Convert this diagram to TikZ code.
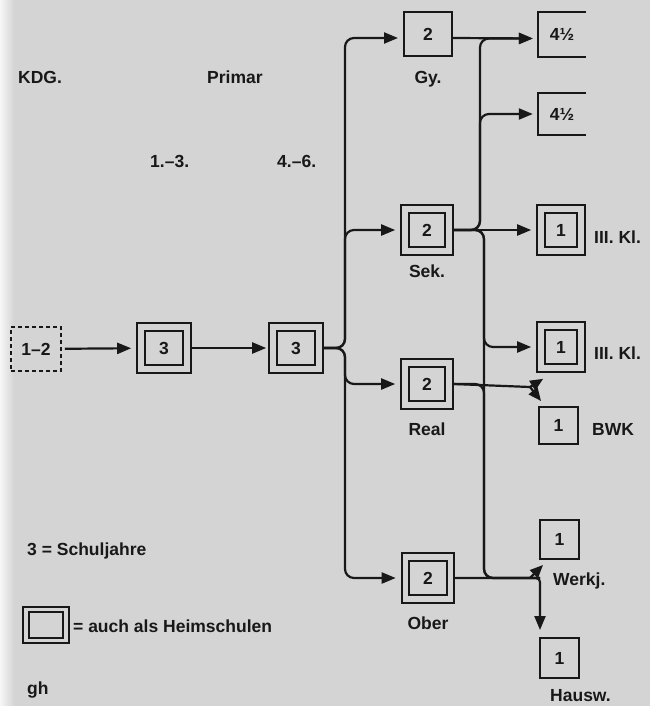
\documentclass[tikz,border=0pt]{standalone}
\usepackage{fontspec}
\setmainfont{Liberation Sans}
\usetikzlibrary{arrows.meta}
\definecolor{bg}{RGB}{212,212,212}
\definecolor{ink}{RGB}{24,24,24}
\begin{document}
\begin{tikzpicture}[x=1pt,y=-1pt,
  every node/.style={font=\bfseries\fontsize{17.5}{20}\selectfont, text=ink},
  single/.style={draw=ink, line width=2pt, inner sep=0pt},
  dbl/.style={draw=ink, double=bg, double distance=5.5pt, line width=2pt, inner sep=0pt, outer sep=4.8pt},
  dashbox/.style={draw=ink, line width=1.8pt, dash pattern=on 4pt off 3pt, inner sep=0pt},
  openbox/.style={inner sep=0pt},
  arr/.style={draw=ink, line width=2.2pt, shorten >=5pt, -{Triangle[length=14pt,width=11pt]}},
  tiparr/.style={draw=ink, line width=2.2pt, -{Triangle[length=13pt,width=11pt]}},
  ln/.style={draw=ink, line width=2.2pt},
  rc/.style={rounded corners=9pt},
  lab/.style={anchor=base west, inner sep=0pt},
  labc/.style={anchor=base, inner sep=0pt}]
\useasboundingbox (0,0) rectangle (650,706);
\fill[bg] (0,0) rectangle (650,706);
\shade[left color=white!80!bg, right color=bg] (0,0) rectangle (14,706);

% headings
\node[lab] (hk) at (18,84) {KDG.};
\node[lab] (hp) at (207,84) {Primar};
\node[lab] (h13) at (150,167) {1.–3.};
\node[lab] (h46) at (277,167) {4.–6.};

% boxes
\node[dashbox, minimum width=50pt, minimum height=44pt] (k) at (36,349) {1–2};
\node[dbl, minimum width=46pt, minimum height=42pt] (p1) at (164,348) {3};
\node[dbl, minimum width=46pt, minimum height=42pt] (p2) at (296,348) {3};
\node[single, minimum width=48pt, minimum height=44pt] (gy) at (428,34) {2};
\node[dbl, minimum width=44pt, minimum height=42pt] (sek) at (427,230) {2};
\node[dbl, minimum width=44pt, minimum height=42pt] (real) at (427,384) {2};
\node[dbl, minimum width=45pt, minimum height=42pt] (ober) at (428,578) {2};
\node[openbox, minimum width=48pt, minimum height=44pt] (g1) at (562,34.5) {4½};
\node[openbox, minimum width=48pt, minimum height=41pt] (g2) at (562,114) {4½};
\node[dbl, minimum width=40pt, minimum height=42pt] (kl1) at (561,230) {1};
\node[dbl, minimum width=40pt, minimum height=42pt] (kl2) at (561,347) {1};
\node[single, minimum width=39pt, minimum height=37pt] (bwk) at (558.5,425.5) {1};
\node[single, minimum width=39pt, minimum height=39pt] (werkj) at (559.5,539.5) {1};
\node[single, minimum width=39pt, minimum height=40pt] (hausw) at (559.5,658) {1};
\draw[ln] (g1.north east) -- (g1.north west) -- (g1.south west) -- (g1.south east);
\draw[ln] (g2.north east) -- (g2.north west) -- (g2.south west) -- (g2.south east);

% box labels
\node[labc] (lgy) at (428,84) {Gy.};
\node[labc] (lsek) at (427,277) {Sek.};
\node[labc] (lreal) at (427,435) {Real};
\node[labc] (lober) at (428,629) {Ober};
\node[lab] (lkl1) at (594,243) {III. Kl.};
\node[lab] (lkl2) at (594,359) {III. Kl.};
\node[lab] (lbwk) at (592,435) {BWK};
\node[lab] (lwerkj) at (553,585) {Werkj.};
\node[lab] (lhausw) at (550,701) {Hausw.};

% legend
\node[lab] (leg1) at (27,555) {3 = Schuljahre};
\node[draw=ink, double=bg, double distance=3.5pt, line width=1.8pt, inner sep=0pt,
      minimum width=40pt, minimum height=31pt] (legbox) at (46,625) {};
\node[lab] (leg2) at (73,632) {= auch als Heimschulen};
\node[lab] (gh) at (27,694) {gh};

% junction coordinates
\coordinate (t) at (345,348);
\coordinate (u) at (480,0);
\coordinate (v) at (484,0);
\coordinate (rj) at (530,387);
\coordinate (oa) at (530,578);
\coordinate (oj) at (540,578);

% connectors
\draw[arr, shorten <=3pt] (k) -- (p1);
\draw[arr, shorten >=2pt] (p1) -- (p2);
\draw[arr, rc] (p2.east) -- (t) |- ([yshift=-4pt]gy.west);
\draw[arr, rc] (p2.east) -- (t) |- (sek.west);
\draw[arr, rc] (p2.east) -- (t) |- (real.west);
\draw[arr, rc] (p2.east) -- (t) |- (ober.west);

\draw[arr] ([yshift=-4pt]gy.east) -- ([yshift=-4pt]g1.west);
\draw[arr, rc] (sek.east) -- (u |- sek.east) |- ([yshift=-4pt]g1.west);
\draw[arr, rc] (sek.east) -- (u |- sek.east) |- (g2.west);
\draw[arr] (sek.east) -- (kl1.west);
\draw[ln, rc] (sek.east) -- (v |- sek.east) |- (oj);
\draw[arr, rc] (sek.east) -- (v |- sek.east) |- (kl2.west);

\draw[ln, rc] (real.east) -- (v |- real.east) |- (oj);
\draw[ln] (real.east) -- (rj);
\draw[tiparr] (rj) -- ([xshift=7pt,yshift=-6pt]kl2.south west);
\draw[tiparr] (rj) -- ([xshift=3pt,yshift=5pt]bwk.north west);

\draw[ln] (ober.east) -- (oj);
\draw[tiparr] (oa) -- ([xshift=4pt,yshift=-5pt]werkj.south west);
\draw[arr, rounded corners=4pt, shorten >=7pt] (ober.east) -- (oj) -- (oj |- hausw.north);
\end{tikzpicture}
\end{document}
